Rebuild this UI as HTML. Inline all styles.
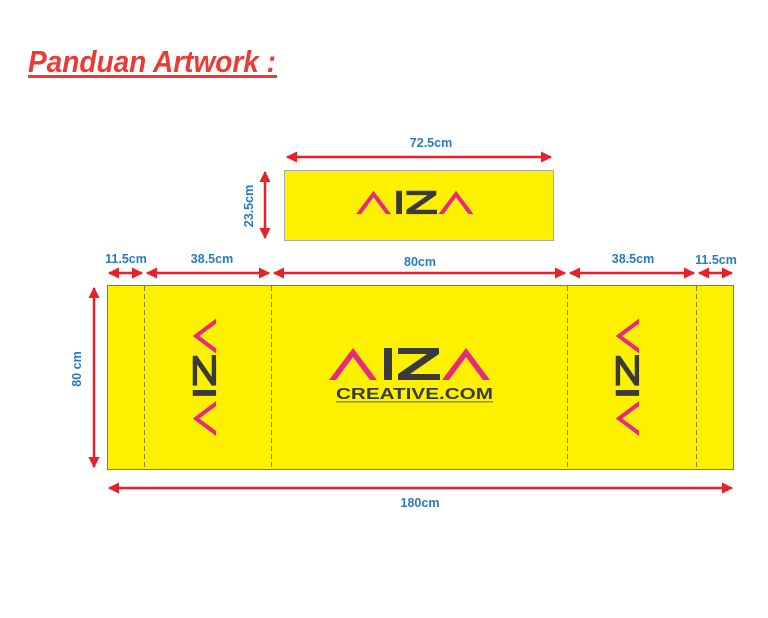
<!DOCTYPE html>
<html><head><meta charset="utf-8"><style>
html,body{margin:0;padding:0;background:#fff;width:768px;height:618px;overflow:hidden}
svg{display:block}
text{font-family:"Liberation Sans",sans-serif;font-weight:bold}
</style></head><body>
<svg width="768" height="618" viewBox="0 0 768 618" xmlns="http://www.w3.org/2000/svg">
<defs>
<marker id="ah" viewBox="0 0 10 10" refX="9" refY="5" markerWidth="4.5" markerHeight="4.5" orient="auto-start-reverse" markerUnits="strokeWidth">
<path d="M0,0 L10,5 L0,10 z" fill="#e8202a"/></marker>
<g id="logo">
<polygon points="0,33 24,1 48,33 41,33 24,10 7,33" fill="#e8297f"/>
<rect x="55" y="1" width="8" height="32" fill="#3a3a3a"/>
<polygon points="69,1 110,1 110,7 81,27 111,27 111,33 69,33 69,27 98,7 69,7" fill="#3a3a3a"/>
<polygon points="113,33 137,1 161,33 154,33 137,10 120,33" fill="#e8297f"/>
</g>
</defs>
<text x="28" y="72" font-size="31" font-style="italic" fill="#ea3c35" textLength="248" lengthAdjust="spacingAndGlyphs">Panduan Artwork :</text>
<rect x="28" y="75" width="249" height="3" fill="#ea3c35"/>

<rect x="284.5" y="170.5" width="269" height="70" fill="#fef100" stroke="#aaa" stroke-width="1"/>
<use href="#logo" transform="translate(356,190) scale(0.73)"/>
<line x1="287" y1="157" x2="551" y2="157" stroke="#e8202a" stroke-width="2.5" marker-start="url(#ah)" marker-end="url(#ah)"/>
<text x="431" y="147" font-size="12.5" fill="#2a7ac0" text-anchor="middle">72.5cm</text>
<line x1="265" y1="172" x2="265" y2="238" stroke="#e8202a" stroke-width="2.5" marker-start="url(#ah)" marker-end="url(#ah)"/>
<text transform="translate(253,206) rotate(-90)" font-size="12.5" fill="#2a7ac0" text-anchor="middle">23.5cm</text>

<rect x="107.5" y="285.5" width="626" height="184" fill="#fef100" stroke="#777" stroke-width="1"/>
<g stroke="#8a8420" stroke-width="1" stroke-dasharray="5,3">
<line x1="144.5" y1="286" x2="144.5" y2="469"/>
<line x1="271.5" y1="286" x2="271.5" y2="469"/>
<line x1="567.5" y1="286" x2="567.5" y2="469"/>
<line x1="696.5" y1="286" x2="696.5" y2="469"/>
</g>
<use href="#logo" transform="translate(329,347)"/>
<text x="336" y="399" font-size="15.5" fill="#3a3a3a" textLength="157" lengthAdjust="spacingAndGlyphs">CREATIVE.COM</text>
<rect x="336" y="401" width="157" height="1.5" fill="#8a8a40"/>
<use href="#logo" transform="translate(192,436) rotate(-90) scale(0.73)"/>
<use href="#logo" transform="translate(615,436) rotate(-90) scale(0.73)"/>

<g stroke="#e8202a" stroke-width="2.5">
<line x1="109" y1="273" x2="142" y2="273" marker-start="url(#ah)" marker-end="url(#ah)"/>
<line x1="147" y1="273" x2="269" y2="273" marker-start="url(#ah)" marker-end="url(#ah)"/>
<line x1="274" y1="273" x2="565" y2="273" marker-start="url(#ah)" marker-end="url(#ah)"/>
<line x1="570" y1="273" x2="694" y2="273" marker-start="url(#ah)" marker-end="url(#ah)"/>
<line x1="699" y1="273" x2="732" y2="273" marker-start="url(#ah)" marker-end="url(#ah)"/>
<line x1="94" y1="288" x2="94" y2="467" marker-start="url(#ah)" marker-end="url(#ah)"/>
<line x1="109" y1="488" x2="732" y2="488" marker-start="url(#ah)" marker-end="url(#ah)"/>
</g>
<g font-size="12.5" fill="#2a7ac0" text-anchor="middle">
<text x="126" y="263">11.5cm</text>
<text x="212" y="263">38.5cm</text>
<text x="420" y="266">80cm</text>
<text x="633" y="263">38.5cm</text>
<text x="716" y="264">11.5cm</text>
<text x="420" y="507">180cm</text>
<text transform="translate(81,369) rotate(-90)">80 cm</text>
</g>
</svg>
</body></html>
